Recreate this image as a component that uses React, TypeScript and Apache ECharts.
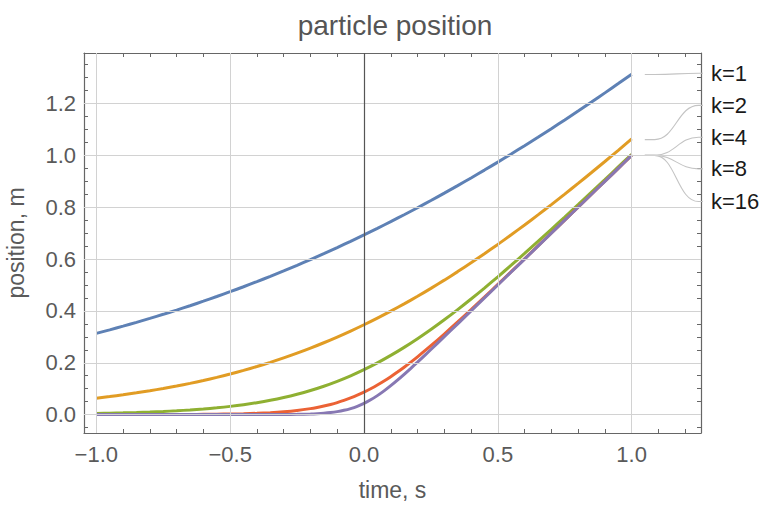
import React, { useEffect, useRef } from "react";
import * as echarts from "echarts";

// time values (s), shared by k=1, k=2, k=4
const timeValues = [
  -1, -0.95, -0.9, -0.85, -0.8, -0.75, -0.7, -0.65, -0.6, -0.55, -0.5, -0.45, -0.4, -0.35, -0.3, -0.25, -0.2, -0.15, -0.1, -0.05,
  0, 0.05, 0.1, 0.15, 0.2, 0.25, 0.3, 0.35, 0.4, 0.45, 0.5, 0.55, 0.6, 0.65, 0.7, 0.75, 0.8, 0.85, 0.9, 0.95, 1,
];
// finer time values near 0, for k=8 and k=16
const timeValuesFine = [
  -1, -0.95, -0.9, -0.85, -0.8, -0.75, -0.7, -0.65, -0.6, -0.55, -0.5, -0.45, -0.4, -0.35, -0.3, -0.25, -0.2,
  -0.175, -0.15, -0.125, -0.1, -0.075, -0.05, -0.025, 0, 0.025, 0.05, 0.075, 0.1, 0.125, 0.15, 0.175, 0.2,
  0.25, 0.3, 0.35, 0.4, 0.45, 0.5, 0.55, 0.6, 0.65, 0.7, 0.75, 0.8, 0.85, 0.9, 0.95, 1,
];

const positionK1 = [
  0.3133, 0.327, 0.3412, 0.3559, 0.3711, 0.3869, 0.4032, 0.4201, 0.4375, 0.4555, 0.4741, 0.4933, 0.513, 0.5334, 0.5544, 0.576,
  0.5981, 0.621, 0.6444, 0.6685, 0.6931, 0.7185, 0.7444, 0.771, 0.7981, 0.8259, 0.8544, 0.8834, 0.913, 0.9433, 0.9741, 1.0055,
  1.0375, 1.0701, 1.1032, 1.1369, 1.1711, 1.2059, 1.2412, 1.277, 1.3133,
];
const positionK2 = [
  0.0635, 0.0697, 0.0765, 0.0839, 0.092, 0.1007, 0.1102, 0.1205, 0.1316, 0.1437, 0.1566, 0.1706, 0.1856, 0.2016, 0.2187, 0.237,
  0.2565, 0.2772, 0.2991, 0.3222, 0.3466, 0.3722, 0.3991, 0.4272, 0.4565, 0.487, 0.5187, 0.5516, 0.5856, 0.6206, 0.6566, 0.6937,
  0.7316, 0.7705, 0.8102, 0.8507, 0.892, 0.9339, 0.9765, 1.0197, 1.0635,
];
const positionK4 = [
  0.0045, 0.0055, 0.0067, 0.0082, 0.01, 0.0121, 0.0148, 0.0179, 0.0217, 0.0263, 0.0317, 0.0382, 0.046, 0.0551, 0.0658, 0.0783,
  0.0928, 0.1094, 0.1283, 0.1495, 0.1733, 0.1995, 0.2283, 0.2594, 0.2928, 0.3283, 0.3658, 0.4051, 0.446, 0.4882, 0.5317, 0.5763,
  0.6217, 0.6679, 0.7148, 0.7621, 0.81, 0.8582, 0.9067, 0.9555, 1.0045,
];
const positionK8 = [
  0.00004, 0.00006, 0.00009, 0.00014, 0.00021, 0.00031, 0.00046, 0.00069, 0.00103, 0.00153, 0.00227, 0.00337, 0.00499, 0.00738,
  0.01086, 0.01587, 0.02299, 0.02755, 0.03291, 0.03916, 0.04639, 0.05469, 0.06413, 0.07477, 0.08664, 0.09977, 0.11413, 0.12969,
  0.14639, 0.16416, 0.18291, 0.20255, 0.22299, 0.26587, 0.31086, 0.35738, 0.40499, 0.45337, 0.50227, 0.55153, 0.60103, 0.65069,
  0.70046, 0.75031, 0.80021, 0.85014, 0.90009, 0.95006, 1.00004,
];
const positionK16 = [
  0, 0, 0, 0, 0, 0, 0.000001, 0.000002, 0.000004, 0.000009, 0.000021, 0.000047, 0.000104, 0.000231, 0.000512, 0.001134, 0.002497,
  0.00369, 0.005427, 0.007933, 0.011494, 0.016455, 0.023194, 0.032063, 0.043322, 0.057063, 0.073194, 0.091455, 0.111494,
  0.132933, 0.155427, 0.17869, 0.202497, 0.251134, 0.300512, 0.350231, 0.400104, 0.450047, 0.500021, 0.550009, 0.600004,
  0.650002, 0.700001, 0.75, 0.8, 0.85, 0.9, 0.95, 1,
];

const seriesNames = ["k=1", "k=2", "k=4", "k=8", "k=16"];

// tick labels / tick positions
const xMajorTicks = [-1, -0.5, 0, 0.5, 1];
const xMinorTicks = [-0.9, -0.8, -0.7, -0.6, -0.4, -0.3, -0.2, -0.1, 0.1, 0.2, 0.3, 0.4, 0.6, 0.7, 0.8, 0.9, 1.1, 1.2];
const yMajorTicks = [0, 0.2, 0.4, 0.6, 0.8, 1.0, 1.2];
const yMinorTicks = [
  -0.05, 0.05, 0.1, 0.15, 0.25, 0.3, 0.35, 0.45, 0.5, 0.55, 0.65, 0.7, 0.75, 0.85, 0.9, 0.95, 1.05, 1.1, 1.15, 1.25, 1.3, 1.35,
];

// layout (plot range and callout geometry, in data units)
const X_MIN = -1.046;
const X_MAX = 1.259;
const Y_MIN = -0.071;
const Y_MAX = 1.395;
const calloutStartX = 1.049;
const calloutBendX = 1.086;
const calloutEndBendX = 1.25;
const calloutEndX = 1.303;
const calloutStartY = [1.312, 1.061, 1.0, 1.0, 1.0];
const calloutEndY = [1.317, 1.193, 1.07, 0.948, 0.822];

const colors = ["#5E81B5", "#E19C24", "#8FB032", "#EB6235", "#8778B3"];
const FONT = "'Liberation Sans', Arial, sans-serif";
const FRAME = "#666666";
const LABEL = "#5a5a5a";

function fmt(v: number) {
  const s = Math.abs(v).toFixed(1);
  return v < -1e-9 ? "\u2212" + s : s;
}

function xAxisDef(position: "bottom" | "top", ticks: number[], len: number, labels: boolean, line: boolean, name?: string) {
  return {
    type: "value",
    position,
    min: X_MIN,
    max: X_MAX,
    name: name || "",
    nameLocation: "middle",
    nameGap: 45,
    nameTextStyle: { color: LABEL, fontSize: 23, fontFamily: FONT },
    axisLine: { show: line, onZero: false, lineStyle: { color: FRAME, width: 1.2 } },
    axisTick: { show: true, inside: true, length: len, customValues: ticks, lineStyle: { color: FRAME, width: 1 } },
    axisLabel: labels
      ? { show: true, customValues: ticks, formatter: fmt, color: LABEL, fontSize: 22, fontFamily: FONT, margin: 10 }
      : { show: false },
    splitLine: { show: false },
    minorTick: { show: false },
  };
}

function yAxisDef(position: "left" | "right", ticks: number[], len: number, labels: boolean, line: boolean, name?: string) {
  return {
    type: "value",
    position,
    min: Y_MIN,
    max: Y_MAX,
    name: name || "",
    nameLocation: "middle",
    nameRotate: 90,
    nameGap: 57,
    nameTextStyle: { color: LABEL, fontSize: 23, fontFamily: FONT },
    axisLine: { show: line, onZero: false, lineStyle: { color: FRAME, width: 1.2 } },
    axisTick: { show: true, inside: true, length: len, customValues: ticks, lineStyle: { color: FRAME, width: 1 } },
    axisLabel: labels
      ? { show: true, customValues: ticks, formatter: fmt, color: LABEL, fontSize: 22, fontFamily: FONT, margin: 8 }
      : { show: false },
    splitLine: { show: false },
    minorTick: { show: false },
  };
}

export default function App() {
  const ref = useRef<HTMLDivElement>(null);
  useEffect(() => {
    if (!ref.current) return;
    const chart = echarts.init(ref.current, null, { renderer: "svg" });

    const curves = [
      { x: timeValues, y: positionK1 },
      { x: timeValues, y: positionK2 },
      { x: timeValues, y: positionK4 },
      { x: timeValuesFine, y: positionK8 },
      { x: timeValuesFine, y: positionK16 },
    ];

    const curveSeries = curves.map((c, i) => ({
      type: "line",
      name: seriesNames[i],
      xAxisIndex: 0,
      yAxisIndex: 0,
      data: c.x.map((x, j) => [x, c.y[j]]),
      showSymbol: false,
      smooth: 0.3,
      lineStyle: { color: colors[i], width: 3 },
      z: 4,
      silent: true,
    }));

    const calloutSeries = seriesNames.map((nm, i) => ({
      type: "line",
      name: "callout " + nm,
      xAxisIndex: 0,
      yAxisIndex: 0,
      clip: false,
      data: [
        [calloutStartX, calloutStartY[i]],
        [calloutBendX, calloutStartY[i]],
        [calloutEndBendX, calloutEndY[i]],
        [calloutEndX, calloutEndY[i]],
      ],
      showSymbol: false,
      smooth: 0.45,
      lineStyle: { color: "#c4c4c4", width: 1.1 },
      endLabel: {
        show: true,
        formatter: nm,
        color: "#1a1a1a",
        fontSize: 22,
        fontFamily: FONT,
        distance: 8,
      },
      z: 3,
      silent: true,
    }));

    const gridLineData: any[] = [];
    xMajorTicks.forEach((v) => {
      if (v === 0) return;
      gridLineData.push({ xAxis: v });
    });
    yMajorTicks.forEach((v) => gridLineData.push({ yAxis: v }));
    gridLineData.push({ xAxis: 0, lineStyle: { color: "#555555", width: 1.2 } });

    const gridSeries = {
      type: "line",
      name: "gridlines",
      xAxisIndex: 0,
      yAxisIndex: 0,
      data: [[0, 0]],
      showSymbol: false,
      lineStyle: { opacity: 0 },
      silent: true,
      z: 1,
      markLine: {
        silent: true,
        symbol: ["none", "none"],
        label: { show: false },
        lineStyle: { color: "#d2d2d2", width: 1, type: "solid" },
        emphasis: { disabled: true },
        data: gridLineData,
      },
    };

    chart.setOption({
      animation: false,
      backgroundColor: "#ffffff",
      textStyle: { fontFamily: FONT },
      title: {
        text: "particle position",
        left: 390,
        textAlign: "center",
        top: 6,
        textStyle: { color: "#555555", fontSize: 28, fontWeight: "normal", fontFamily: FONT },
      },
      grid: { left: 84, top: 53, right: 70, bottom: 72, containLabel: false, outerBoundsMode: "none" },
      xAxis: [
        xAxisDef("bottom", xMajorTicks, 7, true, true, "time, s"),
        xAxisDef("bottom", xMinorTicks, 4, false, false),
        xAxisDef("top", xMajorTicks, 7, false, true),
        xAxisDef("top", xMinorTicks, 4, false, false),
      ],
      yAxis: [
        yAxisDef("left", yMajorTicks, 7, true, true, "position, m"),
        yAxisDef("left", yMinorTicks, 4, false, false),
        yAxisDef("right", yMajorTicks, 7, false, true),
        yAxisDef("right", yMinorTicks, 4, false, false),
      ],
      series: [gridSeries, ...calloutSeries, ...curveSeries],
    } as any);

    return () => chart.dispose();
  }, []);

  return (
    <div
      ref={ref}
      style={{ position: "fixed", left: 0, top: 0, width: 771, height: 505, background: "#fff" }}
    />
  );
}
